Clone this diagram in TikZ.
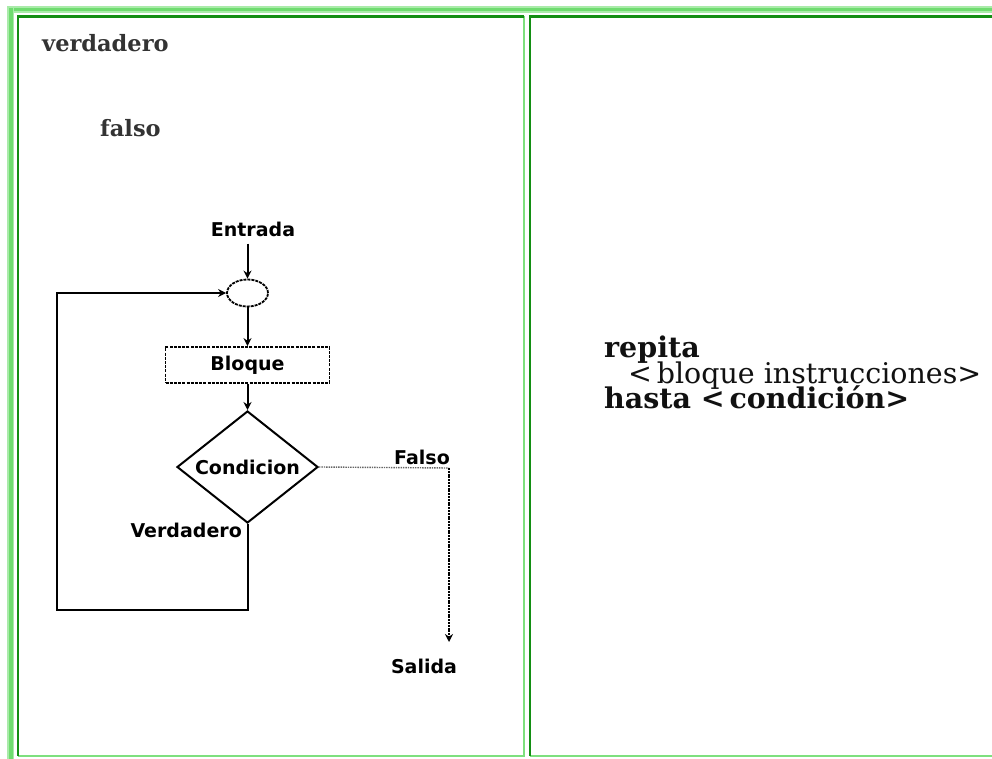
\documentclass[tikz,border=0pt]{standalone}
\usepackage{fontspec}
\setmainfont{DejaVu Serif}
\newfontfamily\flowfont{DejaVu Sans}
\usetikzlibrary{shapes.geometric,arrows.meta}
\definecolor{bandgreen}{HTML}{6FDC6F}
\definecolor{bandlight}{HTML}{A9EBA9}
\definecolor{darkcell}{HTML}{138F13}
\definecolor{lightcell}{HTML}{7EE07E}
\definecolor{inkgray}{HTML}{333333}
\definecolor{inkdark}{HTML}{111111}
\tikzset{
  flowlabel/.style={font=\flowfont\bfseries\fontsize{19}{21}\selectfont, inner sep=1pt},
  flowline/.style={draw=black, line width=2pt},
  flowarrow/.style={flowline, -{Stealth[length=8pt,width=8pt]}},
  boxdashed/.style={draw=black, line width=1.8pt, dash pattern=on 3pt off 1.2pt},
  headword/.style={font=\bfseries\fontsize{22.5}{25}\selectfont, text=inkgray, inner sep=0pt, anchor=base west},
}
\begin{document}
\begin{tikzpicture}[x=1pt, y=-1pt]
  \useasboundingbox (0,0) rectangle (992,759);
  \fill[white] (0,0) rectangle (992,759);

  % outer table frame (top and left bands)
  \fill[bandlight] (7,6) rectangle (992,13);
  \fill[bandgreen] (9,8) rectangle (992,11.5);
  \fill[bandlight] (7,6) rectangle (14,759);
  \fill[bandgreen] (9,8) rectangle (12.5,759);

  % left cell borders (inset: dark top/left, light bottom/right)
  \draw[lightcell, line width=2.5pt] (18,756) -- (524,756) -- (524,16.5);
  \draw[darkcell, line width=2.5pt] (18,756) -- (18,16.5) -- (524,16.5);
  % right cell borders
  \draw[lightcell, line width=2.5pt] (530,756) -- (992,756);
  \draw[darkcell, line width=2.5pt] (530,756) -- (530,16.5) -- (992,16.5);

  % captions in the left cell
  \node[headword] (verd) at (42,52) {verdadero};
  \node[headword] (fals) at (100,137) {falso};

  % flowchart of the repeat loop
  \node[flowlabel] (entrada) at (253,229) {Entrada};
  \node[draw=black, line width=1.8pt, dash pattern=on 3pt off 1pt, ellipse,
        minimum width=41pt, minimum height=27pt, inner sep=0pt] (merge) at (247.5,293) {};
  \node[boxdashed, rectangle, minimum width=164pt, minimum height=36pt,
        flowlabel] (bloque) at (247.5,365) {Bloque};
  \node[draw=black, line width=2pt, diamond, aspect=1.26, minimum width=141pt,
        minimum height=112pt, inner sep=0pt, flowlabel] (cond) at (247.5,467) {Condicion};
  \node[flowlabel, anchor=south east] (falso) at (451,466) {Falso};
  \node[flowlabel, anchor=north east] (verdadero) at (243,522) {Verdadero};
  \node[flowlabel] (salida) at (424,666) {Salida};

  \coordinate (fcorner) at (449,468);
  \coordinate (fend) at (449,642);
  \coordinate (loopcorner) at (57,610);

  \draw[flowarrow] (merge.north |- entrada.south) ++(0,6) -- (merge.north);
  \draw[flowarrow] (merge.south) -- (bloque.north);
  \draw[flowarrow] (bloque.south) -- (cond.north);
  \draw[flowarrow] (cond.south) |- (loopcorner) |- (merge.west);
  \draw[draw=black!60, line width=1.4pt, densely dotted] (cond.east) -- (fcorner);
  \draw[draw=black, line width=1.8pt, dash pattern=on 2pt off 0.8pt,
        -{Stealth[length=8pt,width=8pt]}] (fcorner) -- (fend);

  % pseudocode in the right cell
  \node[font={\fontsize{28.5}{25.5}\selectfont\lineskiplimit=-30pt}, text=inkdark,
        align=left, inner sep=0pt, anchor=base west] (code) at (604,408.5)
    {\textbf{repita}\\
     \hspace*{24pt}<\,bloque instrucciones>\\
     \textbf{hasta <\,condición>}};
\end{tikzpicture}
\end{document}
